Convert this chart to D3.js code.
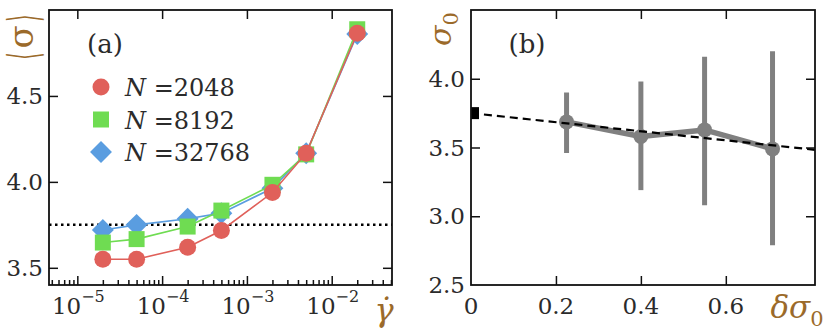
<!DOCTYPE html>
<html>
<head>
<meta charset="utf-8">
<script src="https://cdn.jsdelivr.net/npm/d3@7"></script>
<style>
  body { margin: 0; background: #fff; }
  svg text { font-family: "DejaVu Serif", serif; }
</style>
</head>
<body>
<div id="chart"></div>
<script>
// panel (a): mean stress vs shear rate
var gammaDot = [2e-5, 5e-5, 2e-4, 5e-4, 2e-3, 5e-3, 2e-2];
var sig2048 = [3.55, 3.55, 3.62, 3.717, 3.938, 4.167, 4.865];
var sig8192 = [3.647, 3.667, 3.74, 3.833, 3.983, 4.16, 4.888];
var sig32768 = [3.72, 3.75, 3.785, 3.818, 3.963, 4.167, 4.86];
var seriesNames = ["2048", "8192", "32768"];
var yTicksA = [3.5, 4.0, 4.5];
var xDecadesA = [-5, -4, -3, -2];
var sigmaPlateau = 3.75;

// panel (b): sigma0 vs delta sigma0
var dSigma = [0.225, 0.40, 0.55, 0.71];
var sigma0 = [3.686, 3.58, 3.628, 3.49];
var errLo = [3.46, 3.19, 3.08, 2.79];
var errHi = [3.90, 3.98, 4.16, 4.20];
var fitX = [0, 0.81];
var fitY = [3.75, 3.483];
var xTicksB = [0, 0.2, 0.4, 0.6];
var yTicksB = [2.5, 3.0, 3.5, 4.0];

var W = 830, H = 332;
var labelColor = "#9b6a2a";
var tickColor = "#2b2b2b";

var svg = d3.select("#chart").append("svg")
    .attr("width", W)
    .attr("height", H);

// ---------- panel (a) ----------
var ax = {left: 49, right: 392, top: 10, bottom: 285};
var xA = d3.scaleLog()
    .domain([Math.pow(10, -5.334), Math.pow(10, -1.289)])
    .range([ax.left, ax.right]);
var yA = d3.scaleLinear()
    .domain([3.4, 5.0])
    .range([ax.bottom, ax.top]);

var gA = svg.append("g");

// minor ticks for log axis
var minorA = [];
for (var e = -6; e <= -1; e++) {
  for (var m = 2; m <= 9; m++) {
    var v = m * Math.pow(10, e);
    if (v > xA.domain()[0] && v < xA.domain()[1]) minorA.push(v);
  }
}
var majorA = xDecadesA.map(function(d) { return Math.pow(10, d); });

gA.append("g")
    .attr("transform", "translate(0," + ax.bottom + ")")
    .call(d3.axisBottom(xA).tickValues(minorA).tickSize(-5).tickFormat(""));
gA.append("g")
    .attr("transform", "translate(0," + ax.bottom + ")")
    .call(d3.axisBottom(xA).tickValues(majorA).tickSize(-9).tickFormat(""));
gA.append("g")
    .attr("transform", "translate(0," + ax.top + ")")
    .call(d3.axisTop(xA).tickValues(majorA).tickSize(-9).tickFormat(""));
gA.append("g")
    .attr("transform", "translate(" + ax.left + ",0)")
    .call(d3.axisLeft(yA).tickValues(yTicksA).tickSize(-9).tickFormat(""));
gA.append("g")
    .attr("transform", "translate(" + ax.right + ",0)")
    .call(d3.axisRight(yA).tickValues(yTicksA).tickSize(-9).tickFormat(""));
gA.selectAll(".domain").remove();
gA.selectAll(".tick line").attr("stroke", "#111").attr("stroke-width", 1.5);

// x tick labels 10^n
xDecadesA.forEach(function(d) {
  var t = gA.append("text")
      .attr("x", xA(Math.pow(10, d)) + 1)
      .attr("y", 314)
      .attr("text-anchor", "middle")
      .attr("fill", tickColor)
      .style("font-size", "23px");
  t.append("tspan").text("10");
  t.append("tspan").attr("dy", -12).style("font-size", "16px").text("\u2212" + (-d));
});
yTicksA.forEach(function(d) {
  gA.append("text")
      .attr("x", 43)
      .attr("y", yA(d) + 8)
      .attr("text-anchor", "end")
      .attr("fill", tickColor)
      .style("font-size", "23px")
      .text(d.toFixed(1));
});

// dotted plateau line
gA.append("line")
    .attr("x1", ax.left).attr("x2", ax.right)
    .attr("y1", yA(sigmaPlateau)).attr("y2", yA(sigmaPlateau))
    .attr("stroke", "#000")
    .attr("stroke-width", 2.5)
    .attr("stroke-dasharray", "2.5,3.5");

var seriesA = [
  {name: seriesNames[2], vals: sig32768, color: "#5a9de0", shape: d3.symbolSquare, size: 240, rot: 45},
  {name: seriesNames[1], vals: sig8192, color: "#6fdc52", shape: d3.symbolSquare, size: 256, rot: 0},
  {name: seriesNames[0], vals: sig2048, color: "#e0605a", shape: d3.symbolCircle, size: 227, rot: 0}
];

var lineA = d3.line()
    .x(function(d) { return xA(d[0]); })
    .y(function(d) { return yA(d[1]); });

seriesA.forEach(function(s) {
  var pts = gammaDot.map(function(g, i) { return [g, s.vals[i]]; });
  gA.append("path")
      .datum(pts)
      .attr("d", lineA)
      .attr("fill", "none")
      .attr("stroke", s.color)
      .attr("stroke-width", 1.6);
  gA.selectAll(null)
      .data(pts)
      .enter()
      .append("path")
      .attr("d", d3.symbol().type(s.shape).size(s.size))
      .attr("transform", function(d) {
        return "translate(" + xA(d[0]) + "," + yA(d[1]) + ") rotate(" + s.rot + ")";
      })
      .attr("fill", s.color);
});

// legend
var legendItems = [seriesA[2], seriesA[1], seriesA[0]];
legendItems.forEach(function(s, i) {
  var ly = 87 + i * 32.5;
  gA.append("path")
      .attr("d", d3.symbol().type(s.shape).size(s.size))
      .attr("transform", "translate(101," + ly + ") rotate(" + s.rot + ")")
      .attr("fill", s.color);
  var t = gA.append("text")
      .attr("x", 125)
      .attr("y", ly + 9)
      .attr("fill", tickColor)
      .style("font-size", "24px");
  t.append("tspan").style("font-style", "italic").text("N");
  t.append("tspan").text(" =" + s.name);
});

gA.append("text")
    .attr("x", 105).attr("y", 53)
    .attr("text-anchor", "middle")
    .attr("fill", tickColor)
    .style("font-size", "26px")
    .text("(a)");

// frame
gA.append("rect")
    .attr("x", ax.left).attr("y", ax.top)
    .attr("width", ax.right - ax.left).attr("height", ax.bottom - ax.top)
    .attr("fill", "none").attr("stroke", "#111").attr("stroke-width", 1.8);

// axis labels: <sigma> rotated, with tall thin brackets
var yl = gA.append("g").attr("transform", "translate(33,37) rotate(-90)");
yl.append("text")
    .attr("text-anchor", "middle")
    .attr("fill", labelColor)
    .style("font-size", "34px")
    .text("\u03c3");
yl.append("text")
    .attr("transform", "translate(-19,-10) scale(0.55,1.25)")
    .attr("text-anchor", "middle")
    .attr("dy", "0.35em")
    .attr("fill", labelColor)
    .style("font-size", "34px")
    .text("\u27e8");
yl.append("text")
    .attr("transform", "translate(19,-10) scale(0.55,1.25)")
    .attr("text-anchor", "middle")
    .attr("dy", "0.35em")
    .attr("fill", labelColor)
    .style("font-size", "34px")
    .text("\u27e9");

gA.append("text")
    .attr("x", 384).attr("y", 321)
    .attr("text-anchor", "middle")
    .attr("fill", labelColor)
    .style("font-size", "32px")
    .style("font-style", "italic")
    .text("\u03b3\u0307");

// ---------- panel (b) ----------
var bx = {left: 471, right: 815, top: 10, bottom: 285};
var xB = d3.scaleLinear().domain([0, 0.81]).range([bx.left, bx.right]);
var yB = d3.scaleLinear().domain([2.5, 4.5]).range([bx.bottom, bx.top]);

var gB = svg.append("g");
var clip = gB.append("clipPath").attr("id", "clipB");
clip.append("rect")
    .attr("x", bx.left).attr("y", bx.top)
    .attr("width", bx.right - bx.left).attr("height", bx.bottom - bx.top);

gB.append("g")
    .attr("transform", "translate(0," + bx.bottom + ")")
    .call(d3.axisBottom(xB).tickValues(xTicksB.slice(1)).tickSize(-9).tickFormat(""));
gB.append("g")
    .attr("transform", "translate(0," + bx.top + ")")
    .call(d3.axisTop(xB).tickValues(xTicksB.slice(1)).tickSize(-9).tickFormat(""));
gB.append("g")
    .attr("transform", "translate(" + bx.left + ",0)")
    .call(d3.axisLeft(yB).tickValues(yTicksB.slice(1)).tickSize(-9).tickFormat(""));
gB.append("g")
    .attr("transform", "translate(" + bx.right + ",0)")
    .call(d3.axisRight(yB).tickValues(yTicksB.slice(1)).tickSize(-9).tickFormat(""));
gB.selectAll(".domain").remove();
gB.selectAll(".tick line").attr("stroke", "#111").attr("stroke-width", 1.5);

xTicksB.forEach(function(d) {
  gB.append("text")
      .attr("x", xB(d))
      .attr("y", 314)
      .attr("text-anchor", "middle")
      .attr("fill", tickColor)
      .style("font-size", "23px")
      .text(d === 0 ? "0" : d.toFixed(1));
});
yTicksB.forEach(function(d) {
  gB.append("text")
      .attr("x", 465)
      .attr("y", yB(d) + 8)
      .attr("text-anchor", "end")
      .attr("fill", tickColor)
      .style("font-size", "23px")
      .text(d.toFixed(1));
});

var plot = gB.append("g").attr("clip-path", "url(#clipB)");

// plateau marker at zero
plot.append("rect")
    .attr("x", xB(0) - 7).attr("y", yB(sigmaPlateau) - 6)
    .attr("width", 15).attr("height", 12)
    .attr("fill", "#000");

// error bars
plot.selectAll(null)
    .data(dSigma)
    .enter()
    .append("line")
    .attr("x1", function(d) { return xB(d); })
    .attr("x2", function(d) { return xB(d); })
    .attr("y1", function(d, i) { return yB(errLo[i]); })
    .attr("y2", function(d, i) { return yB(errHi[i]); })
    .attr("stroke", "#808080")
    .attr("stroke-width", 5);

var ptsB = dSigma.map(function(d, i) { return [d, sigma0[i]]; });
plot.append("path")
    .datum(ptsB)
    .attr("d", d3.line()
      .x(function(d) { return xB(d[0]); })
      .y(function(d) { return yB(d[1]); }))
    .attr("fill", "none")
    .attr("stroke", "#808080")
    .attr("stroke-width", 5.5)
    .attr("stroke-linejoin", "round");
plot.selectAll(null)
    .data(ptsB)
    .enter()
    .append("circle")
    .attr("cx", function(d) { return xB(d[0]); })
    .attr("cy", function(d) { return yB(d[1]); })
    .attr("r", 7.5)
    .attr("fill", "#808080");

// dashed fit line
plot.append("line")
    .attr("x1", xB(fitX[0])).attr("y1", yB(fitY[0]))
    .attr("x2", xB(fitX[1])).attr("y2", yB(fitY[1]))
    .attr("stroke", "#000")
    .attr("stroke-width", 2.2)
    .attr("stroke-dasharray", "8,5");

gB.append("text")
    .attr("x", 527).attr("y", 53)
    .attr("text-anchor", "middle")
    .attr("fill", tickColor)
    .style("font-size", "26px")
    .text("(b)");

gB.append("rect")
    .attr("x", bx.left).attr("y", bx.top)
    .attr("width", bx.right - bx.left).attr("height", bx.bottom - bx.top)
    .attr("fill", "none").attr("stroke", "#111").attr("stroke-width", 1.8);

// axis labels
var sl = gB.append("text")
    .attr("transform", "translate(451,29) rotate(-90)")
    .attr("text-anchor", "middle")
    .attr("fill", labelColor)
    .style("font-size", "30px")
    .style("font-style", "italic");
sl.append("tspan").text("\u03c3");
sl.append("tspan").attr("dy", 7).style("font-size", "21px").style("font-style", "normal").text("0");

var dl = gB.append("text")
    .attr("x", 797).attr("y", 318)
    .attr("text-anchor", "middle")
    .attr("fill", labelColor)
    .style("font-size", "31px")
    .style("font-style", "italic");
dl.append("tspan").text("\u03b4\u03c3");
dl.append("tspan").attr("dy", 8).style("font-size", "21px").style("font-style", "normal").text("0");
</script>
</body>
</html>
